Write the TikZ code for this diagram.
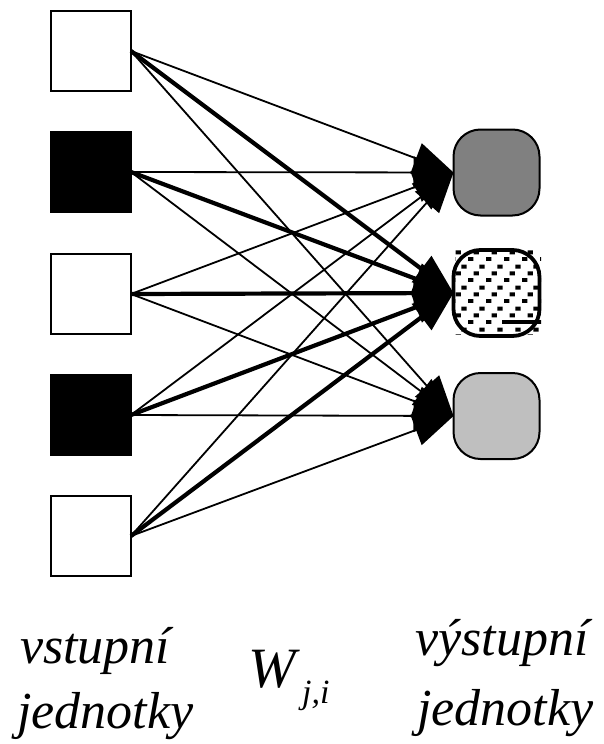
\documentclass[tikz,border=0pt]{standalone}
\usepackage{fontspec}
\setmainfont{Liberation Serif}[ItalicFont={Liberation Serif Italic}]
\newfontfamily\captionfont{Liberation Serif Italic}
\usetikzlibrary{arrows.meta,patterns}

% staggered rectangular dots for the active output unit
\pgfdeclarepatternformonly{stagdots}{\pgfqpoint{0pt}{0pt}}{\pgfqpoint{18pt}{21pt}}{\pgfqpoint{18pt}{21pt}}{%
  \pgfpathrectangle{\pgfqpoint{0pt}{0pt}}{\pgfqpoint{5.5pt}{4pt}}%
  \pgfpathrectangle{\pgfqpoint{6pt}{7pt}}{\pgfqpoint{5.5pt}{4pt}}%
  \pgfpathrectangle{\pgfqpoint{12pt}{14pt}}{\pgfqpoint{5.5pt}{4pt}}%
  \pgfusepath{fill}}

\definecolor{outdark}{gray}{0.5}
\definecolor{outlight}{gray}{0.75}

\begin{document}
\begin{tikzpicture}[x=1pt,y=-1pt,
  inbox/.style={draw, line width=2pt, minimum width=80pt, minimum height=80pt,
    inner sep=0pt, outer sep=0pt},
  onbox/.style={inbox, fill=black},
  outunit/.style={draw, line width=2pt, rounded corners=27pt, minimum width=86pt,
    minimum height=86pt, inner sep=0pt, outer sep=0pt},
  tipshape/.style={-{Triangle[length=40pt,width=32pt]}},
  weaklink/.style={tipshape, line width=1.8pt},
  stronglink/.style={tipshape, line width=4.2pt},
  unitcaption/.style={font=\captionfont\fontsize{52}{52}\selectfont, anchor=base west, inner sep=0pt},
  weightname/.style={font=\captionfont\fontsize{57}{57}\selectfont, anchor=base west, inner sep=0pt},
  weightindex/.style={font=\captionfont\fontsize{34}{34}\selectfont, anchor=base west, inner sep=0pt}]

\useasboundingbox (0,0) rectangle (603,744);

% input units
\node[inbox] (in1) at (91,51) {};
\node[onbox] (in2) at (91,172) {};
\node[inbox] (in3) at (91,294) {};
\node[onbox] (in4) at (91,415) {};
\node[inbox] (in5) at (91,536) {};

% output units
\node[outunit, fill=outdark] (out1) at (496.5,172.5) {};
\fill[pattern=stagdots] (455,250) rectangle (541,334);
\fill (502,320) rectangle (540,323.5);
\node[outunit, line width=3.8pt] (out2) at (496.5,293) {};
\node[outunit, fill=outlight] (out3) at (496.5,416) {};

% weighted connections
\foreach \i in {1,...,5} {
  \draw[weaklink] (in\i.east) -- (out1.west);
  \draw[weaklink] (in\i.east) -- (out3.west);
  \draw[stronglink] (in\i.east) -- (out2.west);
}

% captions
\node[unitcaption] (capin1) at (20,663) {vstupní};
\node[unitcaption] (capin2) at (17,728) {jednotky};
\node[unitcaption] (capout1) at (415,655) {výstupní};
\node[unitcaption] (capout2) at (417,725) {jednotky};
\node[weightname] (wname) at (248,687) {W};
\node[weightindex] (windex) at (302,703) {j,i};
\end{tikzpicture}
\end{document}
